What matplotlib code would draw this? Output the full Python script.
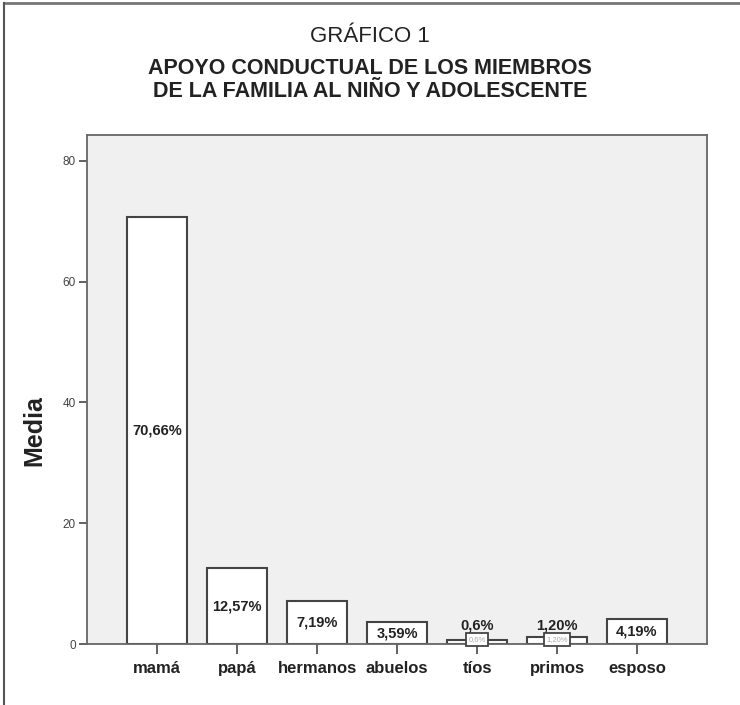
import numpy as np
import matplotlib.pyplot as plt
from matplotlib.lines import Line2D

plt.rcParams['font.family'] = ['Liberation Sans', 'DejaVu Sans']

# datos del gráfico
categorias = ['mamá', 'papá', 'hermanos', 'abuelos', 'tíos', 'primos', 'esposo']
medias = [70.66, 12.57, 7.19, 3.59, 0.6, 1.20, 4.19]
etiquetas = ['70,66%', '12,57%', '7,19%', '3,59%', '0,6%', '1,20%', '4,19%']
yticks = [0, 20, 40, 60, 80]

fig = plt.figure(figsize=(7.40, 7.05), dpi=100)
ax = fig.add_axes([0.1176, 0.0865, 0.8378, 0.7220])
ax.set_facecolor('#f0f0f0')

x = np.arange(len(categorias))
ax.bar(x, medias, width=0.75, color='white', edgecolor='#444444', linewidth=1.5, zorder=2)

# etiquetas de las barras
for xi, v, lab in zip(x, medias, etiquetas):
    if v < 2:
        # barras muy bajas: caja pequeña y etiqueta encima
        ax.text(xi, 0.15, lab, ha='center', va='bottom', fontsize=5.5, color='#aaaaaa',
                bbox=dict(boxstyle='square,pad=0.35', fc='white', ec='#444444', lw=1.3), zorder=3)
        ax.text(xi, 3.1, lab, ha='center', va='center', fontsize=10.5, fontweight='bold',
                color='#222222', zorder=4)
    else:
        ax.text(xi, v / 2, lab, ha='center', va='center', fontsize=10.5, fontweight='bold',
                color='#222222', bbox=dict(boxstyle='square,pad=0.15', fc='white', ec='none'), zorder=3)

ax.set_xlim(-0.875, 6.875)
ax.set_ylim(0, 84.3)
ax.set_xticks(x)
ax.set_xticklabels(categorias, fontsize=12, fontweight='bold', color='#222222')
ax.set_yticks(yticks)
ax.set_yticklabels([str(t) for t in yticks], fontsize=8.5, color='#444444')
ax.tick_params(axis='y', length=6, width=1.3, color='#555555', pad=2)
ax.tick_params(axis='x', length=7, width=1.3, color='#555555', pad=5)
ax.set_ylabel('Media', fontsize=18, fontweight='bold', color='#222222')
ax.yaxis.set_label_coords(-0.066, 0.42)

for s in ax.spines.values():
    s.set_color('#666666')
    s.set_linewidth(1.3)

# títulos
fig.text(0.5, 1 - 36 / 705, 'GRÁFICO 1', ha='center', va='center', fontsize=16, color='#222222')
fig.text(0.5, 1 - 80 / 705, 'APOYO CONDUCTUAL DE LOS MIEMBROS\nDE LA FAMILIA AL NIÑO Y ADOLESCENTE',
         ha='center', va='center', fontsize=15.5, fontweight='bold', color='#222222',
         linespacing=1.18)

# marco exterior (solo arriba e izquierda)
fig.add_artist(Line2D([0.005, 1.0], [0.996, 0.996], transform=fig.transFigure, color='#777777', lw=2))
fig.add_artist(Line2D([0.005, 0.005], [0.0, 0.996], transform=fig.transFigure, color='#555555', lw=1.5))

fig.savefig('out.png', dpi=100)
